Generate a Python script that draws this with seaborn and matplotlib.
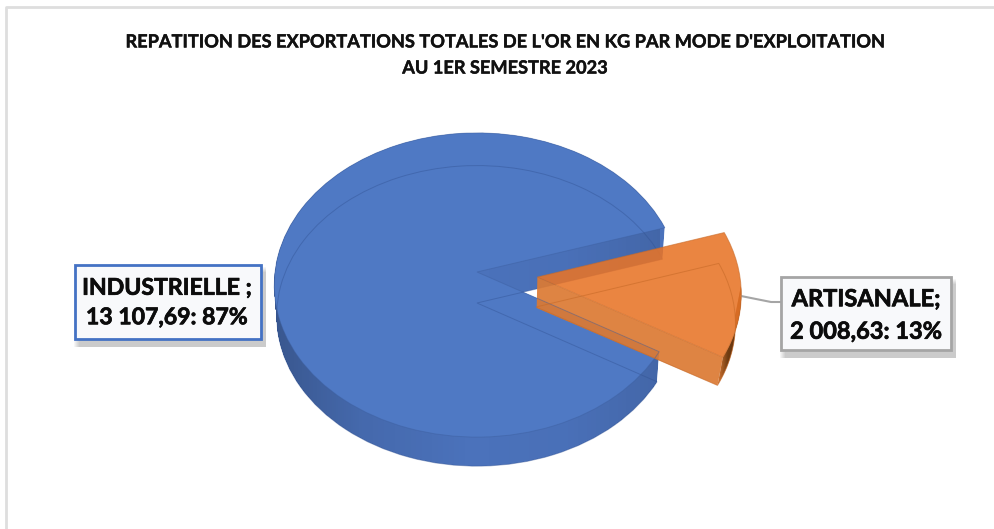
import numpy as np
import matplotlib
matplotlib.use("Agg")
import matplotlib.pyplot as plt
import matplotlib.patheffects as pe
import seaborn as sns
from matplotlib.patches import PathPatch, Rectangle
from matplotlib.path import Path
from matplotlib.transforms import Transform

modes = ["INDUSTRIELLE", "ARTISANALE"]
kg = [13107.69, 2008.63]
labels = ["INDUSTRIELLE ;\n13 107,69: 87%", "ARTISANALE;\n2 008,63: 13%"]
title = "REPATITION DES EXPORTATIONS TOTALES DE L'OR EN KG PAR MODE D'EXPLOITATION\nAU 1ER SEMESTRE 2023"

sns.set_theme(style="white")
plt.rcParams["font.family"] = ["Lato", "DejaVu Sans"]
blue, orange = sns.color_palette(["#4f79c4", "#e87427"])


# tilted view of the unit pie, far side smaller than near side
class Tilt(Transform):
    input_dims = 2
    output_dims = 2

    def __init__(self, drop=0, shrink=1.0):
        super().__init__()
        self.drop = drop
        self.shrink = shrink

    def transform_non_affine(self, xy):
        xy = np.asarray(xy, dtype=float)
        w = 1 + 0.0855 * xy[:, 1]
        x = 477 + 202 * self.shrink * xy[:, 0] / w
        y = 272 + self.drop - 151 * self.shrink * xy[:, 1] / w
        return np.column_stack([x, y])


top = Tilt()
bottom = Tilt(31, 0.988)
art_bottom = Tilt(30, 0.978)

fig = plt.figure(figsize=(9.94, 5.29), dpi=100)
ax = fig.add_axes([0, 0, 1, 1])
wedges, _ = ax.pie(kg, explode=[0, 0.3], startangle=17.5, colors=[blue, orange],
                   wedgeprops={"edgecolor": "none", "linewidth": 0})
ax.set_aspect("auto")
ax.axis("off")

# chart frame, only top and left are in the crop
ax.plot([6, 6, 994], [529, 7, 7], color="#dedede", lw=2, zorder=0)

# blue body: stack of slices between the two faces
layers = []
for d in np.linspace(0, 1, 32):
    layers.append(Tilt(31 * d, 1 - 0.012 * d).transform_path(wedges[0].get_path()))
body = PathPatch(Path.make_compound_path(*layers), fc="#4b72bb", ec="none", zorder=2)
ax.add_patch(body)

shade = np.zeros((1, 400, 4))
shade[0, :, 3] = np.interp(np.linspace(274, 660, 400), [274, 360, 470, 570, 660], [0.24, 0.08, 0, 0.02, 0.1])
im = ax.imshow(shade, extent=(274, 660, 480, 130), aspect="auto", zorder=3)
im.set_clip_path(body)

wedges[0].set_transform(top + ax.transData)
wedges[0].set_zorder(4)

# orange walls
art = wedges[1]
cx, cy = art.center
ang = np.deg2rad(np.linspace(art.theta1, art.theta1 + 27, 40))
rim = np.column_stack([cx + np.cos(ang), cy + np.sin(ang)])
rim_top = top.transform_non_affine(rim)
rim_bot = art_bottom.transform_non_affine(rim)
rim_poly = np.vstack([rim_top, rim_bot[::-1]])
apex = np.array([[cx, cy]])
wall = np.vstack([top.transform_non_affine(apex), rim_top[:1], rim_bot[:1], bottom.transform_non_affine(apex)])

ax.fill(wall[:, 0], wall[:, 1], color="#dc7a33", alpha=0.92, lw=0, zorder=5)
rim_patch = ax.fill(rim_poly[:, 0], rim_poly[:, 1], color="#dc7a33", lw=0, zorder=5)[0]

dark = np.zeros((1, 100, 4))
dark[0, :, :3] = [0.2, 0.1, 0.0]
dark[0, :, 3] = np.interp(np.linspace(700, 745, 100), [700, 718, 728, 745], [0, 0.05, 0.65, 0.75])
im2 = ax.imshow(dark, extent=(700, 745, 400, 280), aspect="auto", zorder=6)
im2.set_clip_path(rim_patch)

art.set_transform(top + ax.transData)
art.set_alpha(0.88)
art.set_zorder(7)

# thin outlines seen through the faces
ax.add_patch(PathPatch(bottom.transform_path(wedges[0].get_path()), fc="none", ec="#2f4f8f", alpha=0.4, lw=0.7, zorder=4.5))
ax.add_patch(PathPatch(top.transform_path(wedges[0].get_path()), fc="none", ec="#3d5f9f", alpha=0.45, lw=0.7, zorder=8))
ax.add_patch(PathPatch(art_bottom.transform_path(art.get_path()), fc="none", ec="#c76a28", alpha=0.6, lw=0.7, zorder=8))
ax.add_patch(PathPatch(top.transform_path(art.get_path()), fc="none", ec="#c76a28", alpha=0.6, lw=0.7, zorder=8))

# leader line
ax.plot([741, 771, 781], [296, 302, 302], color="#a5a5a5", lw=1.5, zorder=6)

ax.text(505, 55, title, ha="center", va="center", fontsize=13.1, fontweight="bold",
        color="#111111", linespacing=1.65, zorder=10,
        path_effects=[pe.withStroke(linewidth=0.3, foreground="#111111")])

# label boxes
boxes = [(75, 265, 186, 74, "#4472c4", 167, 303, 16.6), (781, 277, 170, 73, "#a5a5a5", 866, 315, 17)]
for (x, y, w, h, edge, tx, ty, size), text in zip(boxes, labels):
    for k in range(1, 7):
        ax.add_patch(Rectangle((x - 2 + k, y + 1 + k), w + 7 - k, h + 7 - k, fc="#000000", ec="none", alpha=0.035, zorder=9))
    ax.add_patch(Rectangle((x, y), w, h, fc="#f8f9fb", ec=edge, lw=2, zorder=9.5))
    ax.text(tx, ty, text, ha="center", va="center", fontsize=size, fontweight="bold",
            color="#0c0c0c", linespacing=1.5, zorder=10,
            path_effects=[pe.withStroke(linewidth=0.5, foreground="#0c0c0c")])

ax.set_xlim(0, 994)
ax.set_ylim(529, 0)

fig.savefig("out.png", dpi=100)
